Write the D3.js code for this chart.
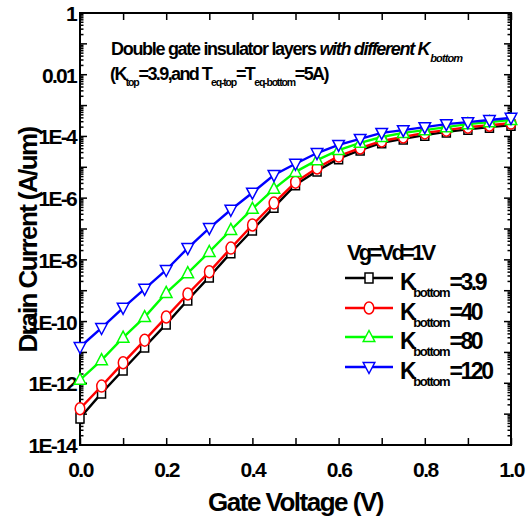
<!DOCTYPE html>
<html>
<head>
<meta charset="utf-8">
<script src="https://cdn.jsdelivr.net/npm/d3@7"></script>
<style>
  body { margin: 0; background: #fff; }
  text { font-family: "Liberation Sans", Arial, sans-serif; font-weight: bold; fill: #000; }
</style>
</head>
<body>
<div id="chart"></div>
<script>
/* DATA */
const gateVoltage = [0, 0.05, 0.1, 0.15, 0.2, 0.25, 0.3, 0.35, 0.4, 0.45, 0.5,
  0.55, 0.6, 0.65, 0.7, 0.75, 0.8, 0.85, 0.9, 0.95, 1.0];

const kBottom = ["3.9", "40", "80", "120"];

const current39 = [7.5e-14, 4.8e-13, 2.7e-12, 1.5e-11, 8.3e-11, 5.0e-10, 2.8e-9, 1.7e-8, 9.3e-8, 5.1e-7, 2.7e-6,
  7.6e-6, 1.9e-5, 3.6e-5, 6.2e-5, 8.3e-5, 1.1e-4, 1.4e-4, 1.7e-4, 2.0e-4, 2.3e-4];
const current40 = [1.5e-13, 8.1e-13, 4.6e-12, 2.5e-11, 1.4e-10, 7.8e-10, 4.1e-9, 2.4e-8, 1.35e-7, 6.9e-7, 3.3e-6,
  9.5e-6, 2.3e-5, 4.2e-5, 7.1e-5, 9.6e-5, 1.3e-4, 1.6e-4, 2.0e-4, 2.3e-4, 2.7e-4];
const current80 = [1.3e-12, 5.6e-12, 3.0e-11, 1.4e-10, 8.5e-10, 3.7e-9, 1.8e-8, 9.3e-8, 4.5e-7, 2.0e-6, 7.1e-6,
  1.7e-5, 3.6e-5, 6.2e-5, 9.6e-5, 1.3e-4, 1.6e-4, 2.0e-4, 2.5e-4, 2.9e-4, 3.4e-4];
const current120 = [1.5e-11, 6.2e-11, 2.8e-10, 1.15e-9, 4.7e-9, 2.4e-8, 1.07e-7, 4.2e-7, 1.5e-6, 5.6e-6, 1.3e-5,
  2.9e-5, 5.3e-5, 8.3e-5, 1.3e-4, 1.6e-4, 2.0e-4, 2.5e-4, 2.9e-4, 3.4e-4, 4.0e-4];

const xTicks = [0, 0.1, 0.2, 0.3, 0.4, 0.5, 0.6, 0.7, 0.8, 0.9, 1.0];
const xTickLabels = ["0.0", "", "0.2", "", "0.4", "", "0.6", "", "0.8", "", "1.0"];
const yTicks = [1, 1e-2, 1e-4, 1e-6, 1e-8, 1e-10, 1e-12, 1e-14];
const yTickLabels = ["1", "0.01", "1E-4", "1E-6", "1E-8", "1E-10", "1E-12", "1E-14"];

/* CONSTANTS */
const width = 530,
  height = 520,
  margin = { top: 13, right: 19, bottom: 75, left: 80 };

const seriesList = [
  { k: kBottom[0], values: current39, color: "#000000", shape: "square" },
  { k: kBottom[1], values: current40, color: "#ff0000", shape: "circle" },
  { k: kBottom[2], values: current80, color: "#00ff00", shape: "up" },
  { k: kBottom[3], values: current120, color: "#0000ff", shape: "down" }
];

const svg = d3.select("#chart")
  .append("svg")
  .attr("width", width)
  .attr("height", height);

const xScale = d3.scaleLinear()
  .domain([0, 1])
  .range([margin.left, width - margin.right]);

const yScale = d3.scaleLog()
  .domain([1e-14, 1])
  .range([height - margin.bottom, margin.top]);

// open symbols with white fill
function marker(sel, shape, color) {
  if (shape === "circle") {
    sel.append("ellipse").attr("rx", 4.8).attr("ry", 6);
  } else if (shape === "square") {
    sel.append("path").attr("d", "M-4,-5H4V5H-4Z");
  } else if (shape === "up") {
    sel.append("path").attr("d", "M0,-6.5L5.8,4.5H-5.8Z");
  } else {
    sel.append("path").attr("d", "M0,6.5L5.8,-4.5H-5.8Z");
  }
  sel.selectAll("path,ellipse")
    .attr("fill", "#fff")
    .attr("stroke", color)
    .attr("stroke-width", 1.5);
}

/* AXES */
const plotBottom = height - margin.bottom,
  plotTop = margin.top,
  plotLeft = margin.left,
  plotRight = width - margin.right;

const minorTicks = [];
for (let e = -14; e < 0; e++) {
  for (let m = 2; m <= 9; m++) minorTicks.push(m * Math.pow(10, e));
}
const decadeTicks = d3.range(-14, 1).map(e => Math.pow(10, e));

const xAxis = d3.axisBottom(xScale).tickValues(xTicks).tickSize(-7).tickFormat((d, i) => xTickLabels[i]).tickPadding(17);
const xAxisTop = d3.axisTop(xScale).tickValues(xTicks).tickSize(-7).tickFormat("");
const yAxis = d3.axisLeft(yScale).tickValues(yTicks).tickSize(0).tickFormat((d, i) => yTickLabels[i]).tickPadding(4);

const gx = svg.append("g")
  .attr("class", "axis x-axis")
  .attr("transform", `translate(0,${plotBottom})`)
  .call(xAxis);
gx.selectAll("text")
  .attr("font-size", 21)
  .attr("letter-spacing", "-1.5px");

svg.append("g")
  .attr("transform", `translate(0,${plotTop})`)
  .call(xAxisTop);

const gy = svg.append("g")
  .attr("class", "axis y-axis")
  .attr("transform", `translate(${plotLeft},0)`)
  .call(yAxis);
gy.selectAll("text")
  .attr("font-size", 21)
  .attr("letter-spacing", "-1.7px")
  .attr("dy", "0.36em");

// decade and minor ticks on left and right sides
[plotLeft, plotRight].forEach(xPos => {
  const dir = xPos === plotLeft ? 1 : -1;
  svg.append("g")
    .call(g => g.selectAll("line.major")
      .data(decadeTicks)
      .join("line")
      .attr("class", "major")
      .attr("x1", xPos)
      .attr("x2", xPos + dir * 7)
      .attr("y1", d => yScale(d))
      .attr("y2", d => yScale(d)))
    .call(g => g.selectAll("line.minor")
      .data(minorTicks)
      .join("line")
      .attr("class", "minor")
      .attr("x1", xPos)
      .attr("x2", xPos + dir * 3.5)
      .attr("y1", d => yScale(d))
      .attr("y2", d => yScale(d)))
    .selectAll("line")
    .attr("stroke", "#000")
    .attr("stroke-width", 1.5);
});

svg.selectAll(".tick line").attr("stroke", "#000").attr("stroke-width", 1.5);
svg.selectAll("path.domain").remove();

// frame
svg.append("rect")
  .attr("x", plotLeft)
  .attr("y", plotTop)
  .attr("width", plotRight - plotLeft)
  .attr("height", plotBottom - plotTop)
  .attr("fill", "none")
  .attr("stroke", "#000")
  .attr("stroke-width", 2);

/* SERIES */
const line = d3.line()
  .x((d, i) => xScale(gateVoltage[i]))
  .y(d => yScale(d));

seriesList.forEach(s => {
  svg.append("path")
    .datum(s.values)
    .attr("fill", "none")
    .attr("stroke", s.color)
    .attr("stroke-width", 2.4)
    .attr("d", line);
  s.values.forEach((v, i) => {
    const g = svg.append("g")
      .attr("transform", `translate(${xScale(gateVoltage[i])},${yScale(v)})`);
    marker(g, s.shape, s.color);
  });
});

/* TITLE TEXT */
const t1 = svg.append("text")
  .attr("x", 111)
  .attr("y", 55)
  .attr("font-size", 18)
  .attr("letter-spacing", "-1.3px");
t1.append("tspan").text("Double gate insulator layers ");
t1.append("tspan").attr("font-style", "italic").text("with different K");
t1.append("tspan").attr("font-style", "italic").attr("font-size", 11).attr("letter-spacing", "-0.9px")
  .attr("dx", 1).attr("dy", 7).text("bottom");

const t2 = svg.append("text")
  .attr("x", 110)
  .attr("y", 80)
  .attr("font-size", 18)
  .attr("letter-spacing", "-1.6px");
const sub = (t, txt) => t.append("tspan").attr("font-size", 10.5).attr("letter-spacing", "-1.2px").attr("dy", 6).text(txt);
t2.append("tspan").text("(K");
sub(t2, "top");
t2.append("tspan").attr("dy", -6).text("=3.9,and T");
sub(t2, "eq-top");
t2.append("tspan").attr("dy", -6).text("=T");
sub(t2, "eq-bottom");
t2.append("tspan").attr("dy", -6).text("=5A)");

/* LEGEND */
svg.append("text")
  .attr("x", 347)
  .attr("y", 260)
  .attr("font-size", 22)
  .attr("letter-spacing", "-2.8px")
  .text("Vg=Vd=1V");

const legendRowY = [278, 308, 337, 367];
seriesList.forEach((s, i) => {
  const y = legendRowY[i];
  svg.append("line")
    .attr("x1", 345).attr("x2", 393)
    .attr("y1", y).attr("y2", y)
    .attr("stroke", s.color)
    .attr("stroke-width", 2.4);
  const g = svg.append("g").attr("transform", `translate(369,${y})`);
  marker(g, s.shape, s.color);
  const t = svg.append("text")
    .attr("x", 400)
    .attr("y", y + 12)
    .attr("font-size", 23)
    .attr("letter-spacing", "-1.5px");
  t.append("tspan").text("K");
  t.append("tspan").attr("font-size", 13).attr("letter-spacing", "-1.3px").attr("dx", -2).attr("dy", 7).text("bottom");
  t.append("tspan").attr("dy", -7).attr("letter-spacing", "-2.4px").text("=" + s.k);
});

/* AXIS TITLES */
svg.append("text")
  .attr("x", (plotLeft + plotRight) / 2)
  .attr("y", 511)
  .attr("text-anchor", "middle")
  .attr("font-size", 26)
  .attr("letter-spacing", "-1.5px")
  .text("Gate Voltage (V)");

svg.append("text")
  .attr("transform", "translate(37,240) rotate(-90)")
  .attr("text-anchor", "middle")
  .attr("font-size", 26)
  .attr("letter-spacing", "-1.6px")
  .text("Drain Current (A/um)");
</script>
</body>
</html>
